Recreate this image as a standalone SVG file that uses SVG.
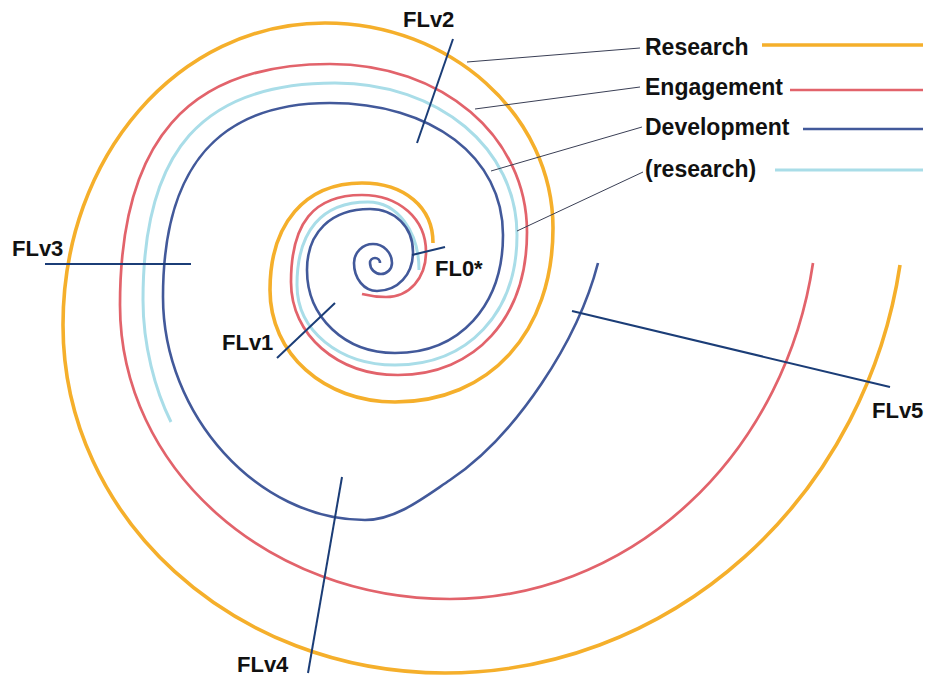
<svg xmlns="http://www.w3.org/2000/svg" width="926" height="677" viewBox="0 0 926 677">
  <style>
    .track { fill: none; stroke-linecap: butt; stroke-linejoin: round; }
    .research { stroke: #F5AF2B; stroke-width: 3.6; }
    .engage { stroke: #E2636B; stroke-width: 2.7; }
    .develop { stroke: #42599A; stroke-width: 2.6; }
    .research-lite { stroke: #A9DDE8; stroke-width: 3; }
    .fl { stroke: #1B3D77; stroke-width: 2; fill: none; }
    .pointer { stroke: #3A3F55; stroke-width: 1; fill: none; }
    .lbl { font-family: "Liberation Sans", Arial, sans-serif; font-weight: bold; fill: #111; }
    .fl-lbl { font-size: 22px; }
    .legend-lbl { font-size: 23px; }
  </style>

  <!-- spiral tracks, built from quarter-turn curves between extreme points -->
  <g id="tracks">
    <path id="track-research" class="track research" d="M433,243 C433,207.4 404.6,183 362,183 C305,183 270,223.7 270,290 C270,353.8 323.8,402 395,402 C489.8,402 553,332.4 553,228 C553,115.3 450.4,23 325,23 C178.3,23 63,155.9 63,325 C63,518.1 233,673 445,673 A460.5,483 0 0 0 900,265"/>
    <path id="track-engagement" class="track engage" d="M362,294 C370,296 378,297 386,297 C409.2,297 426,278.1 426,252 C426,218.9 399.1,195 362,195 C313.7,195 291,222.8 291,282 C291,335 337,375 398,375 C475.4,375 527,317.8 527,232 C527,136.2 442.3,64 330,64 C187.2,64 120,141.1 120,305 C120,468.2 266.9,599 450,599 A367.6,399 0 0 0 813,263"/>
    <path id="track-research-lite" class="track research-lite" d="M419,270 C419,231.2 397.1,202 368,202 C321.8,202 297,231 297,285 C297,330.6 339.1,365 395,365 C468.2,365 517,313 517,235 C517,148.4 438.7,83 335,83 C202.5,83 143,150.3 143,300 C143,345 155,390 171,422"/>
    <path id="track-development" class="track develop" d="M380,263 A5,5 0 0 0 370,263 A11,11 0 0 0 392,263 A19,19 0 0 0 354,263 C354,278.7 364.1,291 377,291 C397.9,291 413,274.6 413,252 C413,227.1 394.9,209 370,209 C331,209 307,232.2 307,270 C307,317.3 344.8,353 395,353 C459.8,353 503,305.8 503,235 C503,157.1 432.1,103 330,103 C218.1,103 163,167 163,297 C163,415.2 257.9,520 365,520 C396,520 424.2,497.3 450,480 C516.5,435.4 578,340.4 598,263"/>
  </g>

  <!-- FL cross-section markers -->
  <g id="fl0">
    <line class="fl" x1="412" y1="255" x2="445" y2="247"/>
    <text class="lbl fl-lbl" x="435" y="276">FL0*</text>
  </g>
  <g id="flv1">
    <line class="fl" x1="335" y1="303" x2="277" y2="358"/>
    <text class="lbl fl-lbl" x="222" y="350">FLv1</text>
  </g>
  <g id="flv2">
    <line class="fl" x1="453" y1="39" x2="417" y2="143"/>
    <text class="lbl fl-lbl" x="403" y="27">FLv2</text>
  </g>
  <g id="flv3">
    <line class="fl" x1="45" y1="264" x2="191" y2="264"/>
    <text class="lbl fl-lbl" x="12" y="256">FLv3</text>
  </g>
  <g id="flv4">
    <line class="fl" x1="342" y1="477" x2="308" y2="673"/>
    <text class="lbl fl-lbl" x="237" y="672">FLv4</text>
  </g>
  <g id="flv5">
    <line class="fl" x1="572" y1="311" x2="890" y2="387"/>
    <text class="lbl fl-lbl" x="872" y="418">FLv5</text>
  </g>

  <!-- legend -->
  <g id="legend-research">
    <text class="lbl legend-lbl" x="645" y="55">Research</text>
    <line class="track research" x1="762" y1="45" x2="923" y2="45"/>
  </g>
  <g id="legend-engagement">
    <text class="lbl legend-lbl" x="645" y="95">Engagement</text>
    <line class="track engage" x1="790" y1="90" x2="923" y2="90"/>
  </g>
  <g id="legend-development">
    <text class="lbl legend-lbl" x="645" y="135">Development</text>
    <line class="track develop" x1="803" y1="129" x2="923" y2="129"/>
  </g>
  <g id="legend-research-lite">
    <text class="lbl legend-lbl" x="645" y="177">(research)</text>
    <line class="track research-lite" x1="775" y1="170" x2="923" y2="170"/>
  </g>

  <!-- legend pointers -->
  <g id="pointers">
    <line class="pointer" x1="640" y1="48" x2="467" y2="62"/>
    <line class="pointer" x1="640" y1="87" x2="475" y2="109"/>
    <line class="pointer" x1="642" y1="127" x2="491" y2="171"/>
    <line class="pointer" x1="643" y1="172" x2="517" y2="231"/>
  </g>
</svg>
